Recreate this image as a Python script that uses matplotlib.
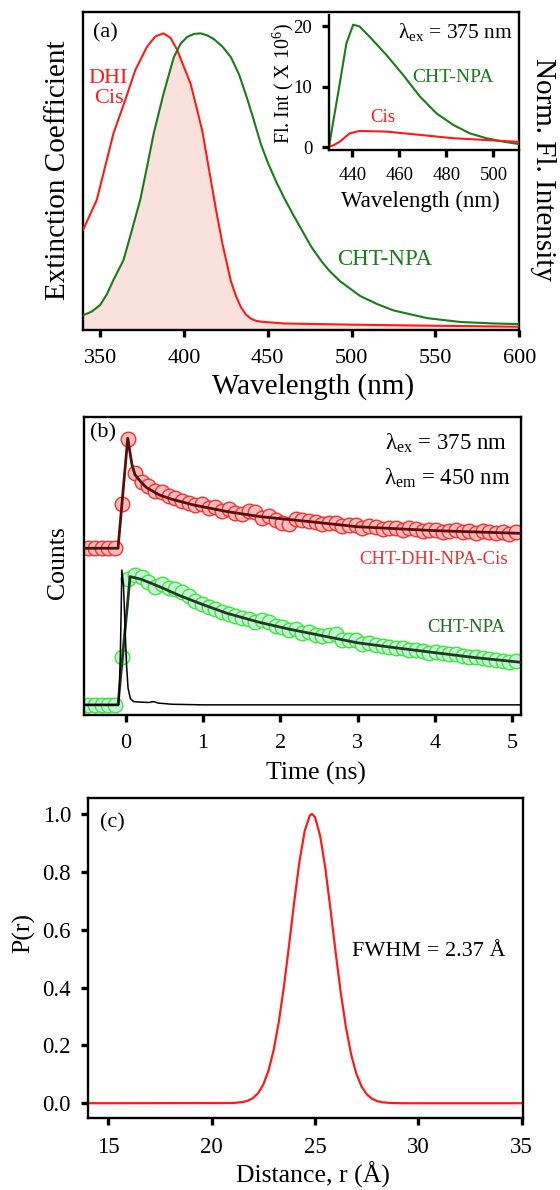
import numpy as np
import matplotlib
matplotlib.use('Agg')
import matplotlib.pyplot as plt
from matplotlib.patches import Polygon

plt.rcParams['font.family'] = 'Liberation Serif'
plt.rcParams['mathtext.fontset'] = 'custom'
plt.rcParams['mathtext.rm'] = 'Liberation Serif'
plt.rcParams['mathtext.it'] = 'Liberation Serif:italic'

# ---- panel (a): absorption of DHI-Cis and emission of CHT-NPA (normalised)
abs_wl = [340, 348, 353, 358, 365, 371, 378, 383, 387.8, 392, 396, 400, 404, 408, 411,
          415, 419, 423, 428, 431, 434, 437, 440, 443, 446, 460, 480, 500, 540, 600]
abs_val = [0.339, 0.438, 0.55, 0.663, 0.775, 0.876, 0.955, 0.99, 1.0, 0.985, 0.944, 0.887,
           0.83, 0.74, 0.67, 0.54, 0.41, 0.29, 0.165, 0.115, 0.077, 0.052, 0.038, 0.031,
           0.028, 0.022, 0.02, 0.018, 0.015, 0.011]
em_wl = [340, 345, 350, 354, 358, 364, 369, 374, 378, 382, 388, 394, 398, 402, 406, 410,
         414, 418, 423, 428, 433, 438, 441, 446, 450, 455, 460, 465, 471, 476, 482, 487,
         493, 505, 515, 525, 545, 565, 585, 600]
em_val = [0.05, 0.062, 0.084, 0.12, 0.169, 0.236, 0.337, 0.44, 0.55, 0.663, 0.80, 0.92,
          0.965, 0.988, 0.998, 1.0, 0.993, 0.98, 0.955, 0.92, 0.86, 0.775, 0.72, 0.625,
          0.565, 0.50, 0.443, 0.39, 0.33, 0.28, 0.232, 0.198, 0.165, 0.115, 0.088, 0.066,
          0.04, 0.027, 0.022, 0.02]

# inset: fluorescence intensity (x 10^6)
ins_wl_g = [430, 431.7, 434.6, 437.4, 440.3, 443, 447.3, 454.4, 461.5, 468.7, 475.8,
            482.9, 490, 497, 504.2, 510.6]
ins_g = [0.1, 4.0, 10.6, 17.2, 20.3, 20.0, 18.3, 15.3, 12.0, 8.4, 5.6, 3.7, 2.3, 1.5,
         0.93, 0.55]
ins_wl_r = [430, 432, 434.6, 438.8, 443, 454.4, 468.7, 482.9, 497, 510.6]
ins_r = [0.1, 0.35, 0.93, 2.3, 2.7, 2.6, 2.05, 1.5, 1.2, 0.9]

# ---- panel (b): TCSPC decays
dec_t = [-0.484, -0.398, -0.311, -0.225, -0.138, -0.052, 0.035, 0.121, 0.208, 0.294,
         0.381, 0.467, 0.554, 0.640, 0.727, 0.813, 0.900, 0.986, 1.073, 1.159, 1.246,
         1.332, 1.419, 1.505, 1.592, 1.678, 1.765, 1.851, 1.938, 2.024, 2.111, 2.197,
         2.284, 2.370, 2.457, 2.543, 2.630, 2.716, 2.803, 2.889, 2.976, 3.062, 3.149,
         3.235, 3.322, 3.408, 3.495, 3.581, 3.668, 3.754, 3.841, 3.927, 4.014, 4.100,
         4.187, 4.273, 4.360, 4.446, 4.533, 4.619, 4.706, 4.792, 4.879, 4.965, 5.052]
cis_counts = [0.559, 0.559, 0.559, 0.559, 0.559, 0.707, 0.924, 0.812, 0.782, 0.768, 0.752,
              0.748, 0.735, 0.727, 0.718, 0.712, 0.703, 0.706, 0.693, 0.697, 0.684, 0.689,
              0.676, 0.673, 0.683, 0.679, 0.662, 0.668, 0.655, 0.644, 0.641, 0.657, 0.655,
              0.652, 0.647, 0.641, 0.645, 0.643, 0.632, 0.638, 0.636, 0.628, 0.632, 0.631,
              0.624, 0.626, 0.627, 0.621, 0.628, 0.622, 0.617, 0.620, 0.621, 0.614, 0.618,
              0.621, 0.612, 0.616, 0.610, 0.617, 0.613, 0.609, 0.612, 0.606, 0.613]
npa_counts = [0.034, 0.034, 0.034, 0.034, 0.034, 0.196, 0.456, 0.468, 0.462, 0.447, 0.430,
              0.438, 0.425, 0.422, 0.414, 0.398, 0.382, 0.372, 0.362, 0.356, 0.345, 0.340,
              0.333, 0.325, 0.322, 0.313, 0.318, 0.312, 0.298, 0.296, 0.286, 0.287, 0.276,
              0.279, 0.268, 0.266, 0.268, 0.270, 0.253, 0.250, 0.252, 0.238, 0.241, 0.236,
              0.231, 0.229, 0.225, 0.226, 0.218, 0.219, 0.214, 0.208, 0.212, 0.207, 0.203,
              0.205, 0.198, 0.195, 0.194, 0.190, 0.188, 0.184, 0.182, 0.179, 0.180]
cis_fit_t = [-0.54, -0.10, 0.026, 0.08, 0.12, 0.2, 0.27, 0.44, 0.6, 0.88, 1.31, 1.74,
             2.39, 3.0, 4.0, 5.1]
cis_fit = [0.559, 0.559, 0.928, 0.84, 0.805, 0.78, 0.762, 0.737, 0.723, 0.704, 0.682,
           0.665, 0.648, 0.631, 0.618, 0.609]
npa_fit_t = [-0.54, -0.10, 0.056, 0.2, 0.44, 0.7, 1.0, 1.31, 1.74, 2.13, 2.5, 3.0, 3.5,
             4.0, 4.5, 5.1]
npa_fit = [0.034, 0.034, 0.464, 0.455, 0.43, 0.40, 0.37, 0.341, 0.31, 0.287, 0.268,
           0.242, 0.225, 0.209, 0.193, 0.177]
irf_t = [-0.54, -0.09, -0.07, -0.05, -0.03, -0.01, 0.01, 0.03, 0.06, 0.1, 0.2, 0.3,
         0.36, 0.42, 0.6, 1.0, 5.1]
irf = [0.034, 0.034, 0.2, 0.486, 0.44, 0.3, 0.17, 0.09, 0.055, 0.045, 0.043, 0.042,
       0.045, 0.04, 0.036, 0.034, 0.034]

# ---- panel (c): distance distribution
r_dist = [14, 21.0, 21.5, 21.75, 22.0, 22.25, 22.5, 22.75, 23.0, 23.25, 23.5, 23.75,
          24.0, 24.25, 24.5, 24.75, 24.85, 25.0, 25.25, 25.5, 25.75, 26.0, 26.25, 26.5,
          26.75, 27.0, 27.25, 27.5, 27.75, 28.0, 28.25, 28.75, 29.5, 35]
p_r = [0.0, 0.0007, 0.0039, 0.0087, 0.018, 0.035, 0.065, 0.113, 0.184, 0.282, 0.406,
       0.55, 0.70, 0.837, 0.941, 0.995, 1.0, 0.989, 0.924, 0.812, 0.67, 0.52, 0.38,
       0.261, 0.168, 0.102, 0.058, 0.031, 0.016, 0.0074, 0.0033, 0.0005, 0.0, 0.0]

W, H = 560, 1190
fig = plt.figure(figsize=(5.6, 11.9), dpi=100)


def box(l, t, r, b):
    return [l / W, 1 - b / H, (r - l) / W, (b - t) / H]


def ftext(x, y, s, **kw):
    fig.text(x / W, 1 - y / H, s, ha='center', va='center', **kw)


def style(ax, size=16, pad=9):
    for s in ax.spines.values():
        s.set_linewidth(1.7)
    ax.tick_params(direction='out', length=5, width=2.4, labelsize=size, pad=pad)


RED = '#ff1a1a'
GREEN = '#1b7a1b'

# (a)
ax1 = fig.add_axes(box(83.3, 11.7, 519.3, 330))
ax1.plot(abs_wl, abs_val, color=RED, lw=1.5, zorder=3)
ax1.plot(em_wl, em_val, color=GREEN, lw=1.5, zorder=3)
fill = ax1.fill_between(abs_wl, 0, abs_val, color='#fbe1dc', lw=0, zorder=1)
clip = Polygon(np.column_stack([em_wl + [600, 340], em_val + [-0.1, -0.1]]),
               closed=True, transform=ax1.transData)
fill.set_clip_path(clip)
ax1.set_xlim(340, 600)
ax1.set_ylim(0, 1.073)
ax1.set_yticks([])
ax1.set_xticks([350, 400, 450, 500, 550, 600])
style(ax1)
ax1.text(353, 1.0, '(a)', fontsize=16, ha='center', va='center')
ax1.text(355, 0.815, 'DHI\nCis', fontsize=16, color=RED, ha='center', va='center',
         linespacing=1.1)
ax1.text(519.8, 0.236, 'CHT-NPA', fontsize=16.5, color=GREEN, ha='center', va='center')
ftext(313, 387, 'Wavelength (nm)', fontsize=21)
ftext(58, 170, 'Extinction Coefficient', fontsize=21, rotation=90)
ftext(543, 169, 'Norm. Fl. Intensity', fontsize=21, rotation=270)

# inset
ax2 = fig.add_axes(box(329, 15, 519.3, 150))
ax2.set_facecolor('none')
ax2.plot(ins_wl_g, ins_g, color=GREEN, lw=1.5)
ax2.plot(ins_wl_r, ins_r, color=RED, lw=1.5)
ax2.set_xlim(430, 511)
ax2.set_ylim(-0.45, 21.9)
ax2.set_xticks([440, 460, 480, 500])
ax2.set_yticks([0, 10, 20])
ax2.spines['top'].set_visible(False)
ax2.spines['right'].set_visible(False)
style(ax2, size=13.5, pad=7)
ax2.text(508.4, 19.1, 'λ$_{\\rm ex}$ = 375 nm', fontsize=15.5, ha='right', va='center')
ax2.text(482.8, 11.5, 'CHT-NPA', fontsize=14, color=GREEN, ha='center', va='center')
ax2.text(452.9, 4.9, 'Cis', fontsize=13.5, color=RED, ha='center', va='center')
ftext(283, 83, 'Fl. Int ( X 10$^6$)', fontsize=14.5, rotation=90)
ftext(420, 201, 'Wavelength (nm)', fontsize=16.5)

# (b)
ax3 = fig.add_axes(box(84, 416.7, 520.7, 715))
ax3.plot(dec_t, cis_counts, 'o', ms=10.5, mfc='#f8bcbc', mec='#f53030', mew=1.0, zorder=2)
ax3.plot(dec_t, npa_counts, 'o', ms=10.5, mfc='#c8f2d8', mec='#3ce63c', mew=1.0, zorder=2)
ax3.plot(cis_fit_t, cis_fit, color='#5c0a0a', lw=2.0, zorder=3)
ax3.plot(npa_fit_t, npa_fit, color='#1f3a1f', lw=2.0, zorder=3)
ax3.plot(irf_t, irf, color='black', lw=1.1, zorder=4)
ax3.set_xlim(-0.54, 5.11)
ax3.set_ylim(0, 1)
ax3.set_yticks([])
ax3.set_xticks([0, 1, 2, 3, 4, 5])
style(ax3)
ax3.text(-0.288, 0.945, '(b)', fontsize=16, ha='center', va='center')
ax3.text(4.94, 0.912, 'λ$_{\\rm ex}$ = 375 nm', fontsize=16.5, ha='right', va='center')
ax3.text(4.98, 0.795, 'λ$_{\\rm em}$ = 450 nm', fontsize=16.5, ha='right', va='center')
ax3.text(4.95, 0.52, 'CHT-DHI-NPA-Cis', fontsize=13.5, color='#f03030', ha='right',
         va='center')
ax3.text(4.91, 0.292, 'CHT-NPA', fontsize=13.5, color='#1b6e1b', ha='right', va='center')
ftext(316, 773, 'Time (ns)', fontsize=18.5)
ftext(58, 563, 'Counts', fontsize=18.5, rotation=90)

# (c)
ax4 = fig.add_axes(box(87.7, 798, 522.7, 1117.7))
ax4.plot(r_dist, p_r, color=RED, lw=1.6)
ax4.set_xlim(14, 35.05)
ax4.set_ylim(-0.05, 1.055)
ax4.set_xticks([15, 20, 25, 30, 35])
ax4.set_yticks([0.0, 0.2, 0.4, 0.6, 0.8, 1.0])
ax4.set_yticklabels(['0.0', '0.2', '0.4', '0.6', '0.8', '1.0'])
style(ax4, size=16.5)
ax4.tick_params(axis='y', pad=7)
ax4.text(15.18, 0.968, '(c)', fontsize=16, ha='center', va='center')
ax4.text(26.78, 0.524, 'FWHM = 2.37 Å', fontsize=16, ha='left', va='center')
ftext(313, 1175, 'Distance, r (Å)', fontsize=18.5)
ftext(24, 933, 'P(r)', fontsize=18.5, rotation=90)

fig.savefig('out.png', dpi=100)
